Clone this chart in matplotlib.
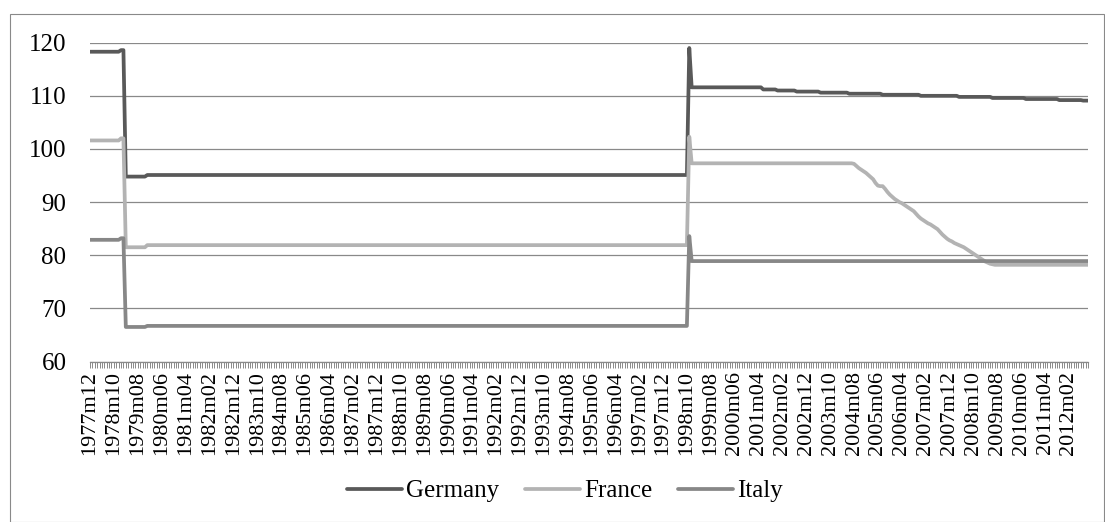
import numpy as np
import matplotlib.pyplot as plt
from matplotlib.patches import Rectangle

# --- Data (monthly) ---
START_YEAR, START_MONTH = 1977, 12
N_MONTHS = 419

# each series is stored as levels + number of months the level holds
GERMANY_LEVELS = [118.3, 118.6, 94.8, 95.1, 119.0, 111.6, 111.2, 111.0, 110.8,
                  110.6, 110.4, 110.2, 110.0, 109.8, 109.6, 109.4, 109.2, 109.1]
GERMANY_RUNS = [13, 2, 9, 227, 1, 30, 6, 8, 10, 12, 14, 16, 16, 14, 14, 14, 10, 3]

FRANCE_DECLINE = [97.2, 96.8, 96.4, 96.1, 95.8, 95.5, 95.1, 94.7, 94.3, 93.6,
                  93.1, 93.0, 93.0, 92.5, 91.9, 91.4, 91.0, 90.6, 90.3, 90.0,
                  89.8, 89.5, 89.2, 88.9, 88.6, 88.3, 87.8, 87.3, 86.9, 86.6,
                  86.3, 86.0, 85.8, 85.5, 85.2, 84.9, 84.4, 83.9, 83.5, 83.1,
                  82.8, 82.6, 82.3, 82.1, 81.9, 81.7, 81.5, 81.2, 80.9, 80.6,
                  80.3, 80.0, 79.7, 79.4, 79.1, 78.8, 78.6, 78.4, 78.3, 78.2]
FRANCE_LEVELS = [101.6, 102.0, 81.5, 81.9, 102.3, 97.3] + FRANCE_DECLINE + [78.2]
FRANCE_RUNS = [13, 2, 9, 227, 1, 68] + [1] * len(FRANCE_DECLINE) + [39]

ITALY_LEVELS = [82.9, 83.2, 66.5, 66.7, 83.6, 78.9]
ITALY_RUNS = [13, 2, 9, 227, 1, 167]

SERIES = [('Germany', GERMANY_LEVELS, GERMANY_RUNS, '#595959'),
          ('France', FRANCE_LEVELS, FRANCE_RUNS, '#b3b3b3'),
          ('Italy', ITALY_LEVELS, ITALY_RUNS, '#878787')]

# month labels like 1977m12
labels = []
y, m = START_YEAR, START_MONTH
for _ in range(N_MONTHS):
    labels.append(f'{y}m{m:02d}')
    m += 1
    if m > 12:
        m = 1
        y += 1

GRID = '#898989'
plt.rcParams['font.family'] = ['Liberation Serif', 'DejaVu Serif']

W, H = 1105, 522
fig = plt.figure(figsize=(W / 100, H / 100), dpi=100)
ax = fig.add_axes([90 / W, 1 - 361.5 / H, 998 / W, (361.5 - 42.7) / H])

x = np.arange(N_MONTHS)
for name, levels, runs, color in SERIES:
    vals = np.repeat(levels, runs)
    ax.plot(x, vals, color=color, lw=2.7, label=name,
            solid_capstyle='round', solid_joinstyle='round')

ax.set_xlim(0, N_MONTHS - 1)
ax.set_ylim(60, 120)
ax.set_yticks(np.arange(60, 121, 10))
ax.grid(axis='y', color=GRID, lw=0.9)
ax.set_axisbelow(True)

ax.set_xticks(x[::10])
ax.set_xticklabels(labels[::10], rotation=90)
ax.set_xticks(x, minor=True)
ax.tick_params(axis='x', which='both', length=4.5, width=0.7, color=GRID,
               direction='out')
ax.tick_params(axis='x', which='major', labelsize=16, pad=2.5)
ax.tick_params(axis='y', length=0, labelsize=18, pad=17)

for side in ['top', 'right', 'left']:
    ax.spines[side].set_visible(False)
ax.spines['bottom'].set_color(GRID)
ax.spines['bottom'].set_linewidth(0.9)

fig.legend(loc='center', bbox_to_anchor=(565 / W, 1 - 491 / H), ncol=3,
           frameon=False, fontsize=18, handlelength=2.2, handletextpad=0.15,
           columnspacing=1.05)

# chart area border
fig.patches.append(Rectangle((9.5 / W, 0.5 / H), (1103.5 - 9.5) / W,
                             (507.5) / H, transform=fig.transFigure,
                             fill=False, edgecolor=GRID, lw=0.8))

fig.savefig('out.png', dpi=100)
